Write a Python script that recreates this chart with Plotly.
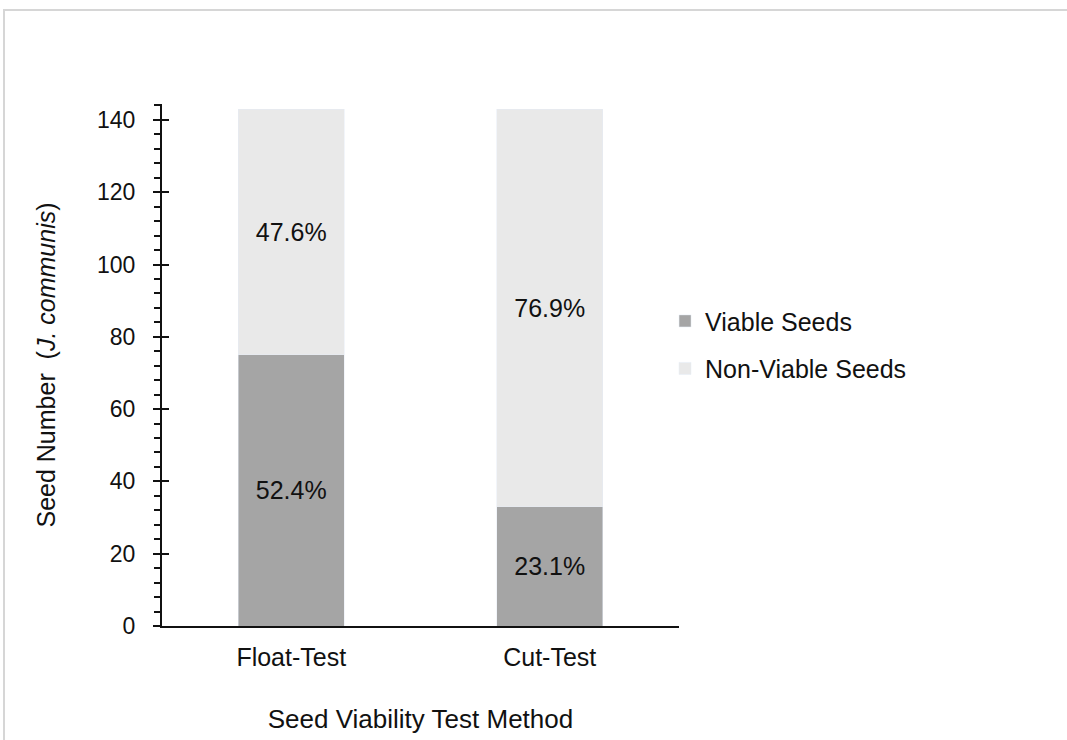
import plotly.graph_objects as go

categories = ["Float-Test", "Cut-Test"]
viable = [75, 33]
non_viable = [68, 110]
viable_pct = ["52.4%", "23.1%"]
non_viable_pct = ["47.6%", "76.9%"]

W, H = 1067, 740
L, R, T, B = 162, 679, 104, 626
FONT = "Liberation Sans"

fig = go.Figure()
fig.add_trace(go.Bar(x=categories, y=viable, name="Viable Seeds", marker_color="#a5a5a5",
                     legendgroup="v",
                     text=viable_pct, textposition="inside", insidetextanchor="middle",
                     textfont=dict(size=25, color="#111111", family=FONT),
                     width=0.41))
fig.add_trace(go.Bar(x=categories, y=non_viable, name="Non-Viable Seeds", marker_color="#e9e9e9",
                     legendgroup="n",
                     text=non_viable_pct, textposition="inside", insidetextanchor="middle",
                     textfont=dict(size=25, color="#111111", family=FONT),
                     width=0.41))
# invisible trace to carry the crossing part of major ticks
fig.add_trace(go.Scatter(x=[None], y=[None], yaxis="y2", showlegend=False, hoverinfo="skip"))

fig.update_layout(
    barmode="stack",
    width=W, height=H,
    margin=dict(l=L, r=W - R, t=T, b=H - B, autoexpand=False),
    paper_bgcolor="white", plot_bgcolor="white",
    font=dict(family=FONT, size=25, color="#111111"),
    showlegend=True,
    legend=dict(x=0.973, xanchor="left", y=0.539, yanchor="middle", font=dict(size=25),
                tracegroupgap=12, traceorder="grouped",
                bgcolor="rgba(0,0,0,0)"),
    xaxis=dict(range=[-0.5, 1.5], showline=True, linecolor="#111111", linewidth=2,
               ticks="", tickfont=dict(size=25), showgrid=False, ticklabelstandoff=8,
               title=dict(text="Seed Viability Test Method", font=dict(size=26), standoff=40)),
    yaxis=dict(range=[0, 144.4], showline=True, linecolor="#111111", linewidth=2,
               tickvals=[0, 20, 40, 60, 80, 100, 120, 140], ticks="outside", ticklen=7,
               tickwidth=2, tickcolor="#111111", tickfont=dict(size=23), showgrid=False,
               zeroline=False, ticklabelstandoff=13,
               minor=dict(dtick=4, ticks="outside", ticklen=6, tickwidth=2, tickcolor="#111111"),
               title=dict(text="Seed Number  (<i>J. communis</i>)", font=dict(size=25), standoff=34)),
    yaxis2=dict(range=[0, 144.4], overlaying="y", anchor="x", side="left", showline=False,
                tickvals=[0, 20, 40, 60, 80, 100, 120, 140], ticks="inside", ticklen=7,
                tickwidth=2, tickcolor="#111111", showticklabels=False, showgrid=False,
                zeroline=False),
    shapes=[dict(type="rect", xref="paper", yref="paper",
                 x0=(4 - L) / (R - L), x1=(1100 - L) / (R - L),
                 y0=(B - 800) / (B - T), y1=(B - 10) / (B - T),
                 line=dict(color="#d6d6d6", width=2), fillcolor="rgba(0,0,0,0)", layer="below")],
)
fig.write_html("out.html", config={"displayModeBar": False},
               post_script="document.body.style.margin='0px';")
